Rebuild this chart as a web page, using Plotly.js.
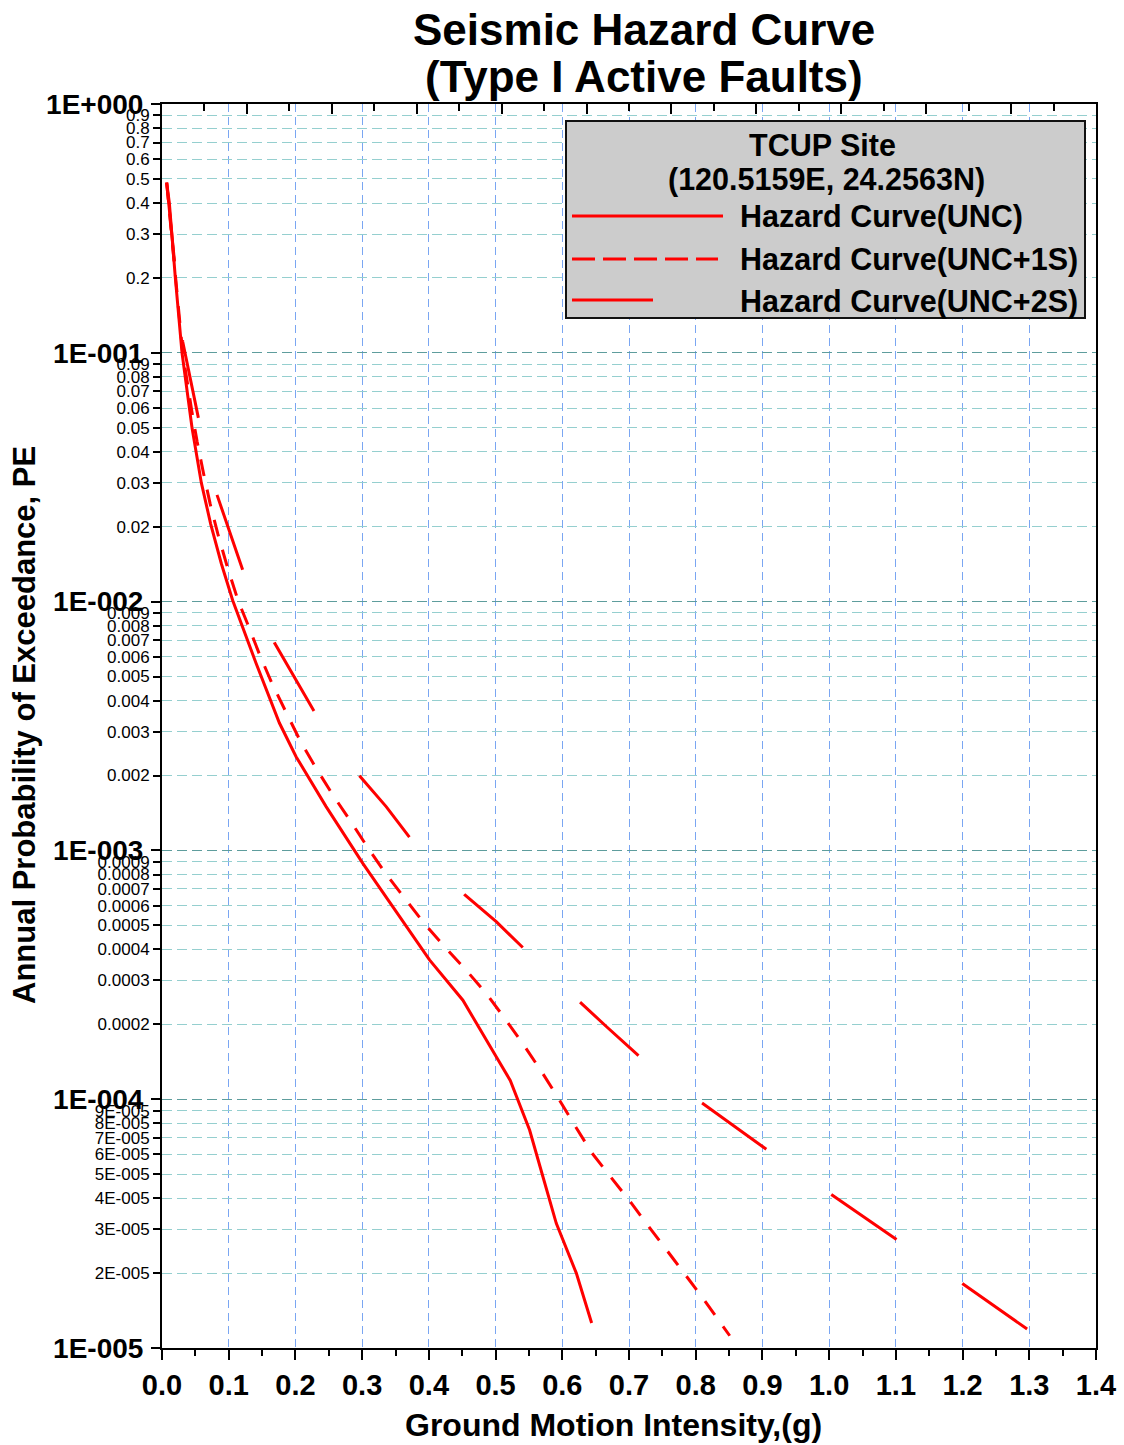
<!DOCTYPE html>
<html>
<head>
<meta charset="utf-8">
<script src="https://cdn.plot.ly/plotly-3.0.1.min.js"></script>
<style>
  html, body { margin: 0; padding: 0; background: #ffffff; }
  #chart { width: 1124px; height: 1445px; }
</style>
</head>
<body>
<div id="chart"></div>
<script>
// Hazard curve for the TCUP site: ground motion (g) vs annual probability of exceedance
const uncX = [0.007, 0.011, 0.020, 0.030, 0.045, 0.059, 0.073, 0.089, 0.106, 0.141, 0.176, 0.201, 0.246, 0.301, 0.351, 0.401, 0.451, 0.501, 0.522, 0.551, 0.571, 0.591, 0.621, 0.644];
const uncY = [0.483, 0.40, 0.20, 0.10, 0.050, 0.030, 0.0205, 0.0142, 0.0101, 0.00565, 0.00325, 0.00238, 0.00150, 0.000887, 0.000567, 0.000363, 0.000250, 0.000148, 0.000119, 7.52e-5, 4.88e-5, 3.17e-5, 2.00e-5, 1.26e-5];

const unc1sX = [0.007, 0.031, 0.0447, 0.0527, 0.0622, 0.0722, 0.0837, 0.0972, 0.114, 0.129, 0.146, 0.165, 0.186, 0.207, 0.231, 0.256, 0.282, 0.308, 0.335, 0.364, 0.393, 0.424, 0.456, 0.487, 0.515, 0.543, 0.569, 0.595, 0.619, 0.644, 0.673, 0.703, 0.724, 0.766, 0.809, 0.851];
const unc1sY = [0.483, 0.100, 0.0582, 0.0439, 0.0328, 0.0247, 0.0187, 0.0140, 0.0101, 0.00805, 0.00615, 0.00468, 0.00359, 0.00276, 0.00214, 0.00167, 0.00132, 0.00103, 0.000809, 0.000641, 0.000509, 0.000409, 0.000330, 0.000264, 0.000209, 0.000164, 0.000129, 0.000100, 7.83e-5, 6.10e-5, 4.85e-5, 3.84e-5, 3.22e-5, 2.29e-5, 1.61e-5, 1.12e-5];

const unc2sX = [0.007, 0.019, 0.031, 0.055, 0.083, 0.121, 0.169, 0.229, 0.297, 0.336, 0.372, 0.454, 0.501, 0.542, 0.627, 0.666, 0.715, 0.809, 0.906, 1.002, 1.102, 1.199, 1.297];
const unc2sY = [0.483, 0.229, 0.111, 0.054, 0.0266, 0.0134, 0.0068, 0.00359, 0.00198, 0.00150, 0.00112, 0.000662, 0.000517, 0.000404, 0.000245, 0.000196, 0.000149, 9.68e-5, 6.29e-5, 4.16e-5, 2.72e-5, 1.82e-5, 1.19e-5];

const xTickVals = [0, 0.1, 0.2, 0.3, 0.4, 0.5, 0.6, 0.7, 0.8, 0.9, 1.0, 1.1, 1.2, 1.3, 1.4];
const xTickText = ['0.0', '0.1', '0.2', '0.3', '0.4', '0.5', '0.6', '0.7', '0.8', '0.9', '1.0', '1.1', '1.2', '1.3', '1.4'];

const decadeVals = [1, 0.1, 0.01, 0.001, 0.0001, 0.00001];
const decadeText = ['1E+000', '1E-001', '1E-002', '1E-003', '1E-004', '1E-005'];

const minorVals = [0.9, 0.8, 0.7, 0.6, 0.5, 0.4, 0.3, 0.2,
                   0.09, 0.08, 0.07, 0.06, 0.05, 0.04, 0.03, 0.02,
                   0.009, 0.008, 0.007, 0.006, 0.005, 0.004, 0.003, 0.002,
                   0.0009, 0.0008, 0.0007, 0.0006, 0.0005, 0.0004, 0.0003, 0.0002,
                   9e-5, 8e-5, 7e-5, 6e-5, 5e-5, 4e-5, 3e-5, 2e-5];
const minorText = ['0.9', '0.8', '0.7', '0.6', '0.5', '0.4', '0.3', '0.2',
                   '0.09', '0.08', '0.07', '0.06', '0.05', '0.04', '0.03', '0.02',
                   '0.009', '0.008', '0.007', '0.006', '0.005', '0.004', '0.003', '0.002',
                   '0.0009', '0.0008', '0.0007', '0.0006', '0.0005', '0.0004', '0.0003', '0.0002',
                   '9E-005', '8E-005', '7E-005', '6E-005', '5E-005', '4E-005', '3E-005', '2E-005'];

const seriesNames = ['Hazard Curve(UNC)', 'Hazard Curve(UNC+1S)', 'Hazard Curve(UNC+2S)'];
const siteName = 'TCUP Site';
const siteCoords = '(120.5159E, 24.2563N)';

const FONT = 'Liberation Sans, Arial, Helvetica, sans-serif';
const RED = '#ff0000';

// plot-area frame in page pixels, used to place the hand-drawn legend and titles
const L = 162, R = 1096, T = 104, B = 1348;
const px = x => (x - L) / (R - L);
const py = y => (B - y) / (B - T);

const traces = [
  { x: uncX, y: uncY, name: seriesNames[0], mode: 'lines',
    line: { color: RED, width: 3, simplify: false } },
  { x: unc1sX, y: unc1sY, name: seriesNames[1], mode: 'lines',
    line: { color: RED, width: 3, dash: '17px,14px', simplify: false } },
  { x: unc2sX, y: unc2sY, name: seriesNames[2], mode: 'lines',
    line: { color: RED, width: 3, dash: '79.2px,79.2px', simplify: false } },
  // carriers so the top tick row and the decade axis are drawn
  { x: [], y: [], xaxis: 'x2', yaxis: 'y', hoverinfo: 'skip', showlegend: false },
  { x: [], y: [], xaxis: 'x', yaxis: 'y2', hoverinfo: 'skip', showlegend: false }
];

const legendShapes = [
  { type: 'rect', xref: 'paper', yref: 'paper', layer: 'above',
    x0: px(566), x1: px(1085), y0: py(318), y1: py(121),
    fillcolor: '#cccccc', line: { color: '#111111', width: 2 } },
  { type: 'line', xref: 'paper', yref: 'paper', layer: 'above',
    x0: px(572), x1: px(723), y0: py(216), y1: py(216), line: { color: RED, width: 3 } },
  { type: 'line', xref: 'paper', yref: 'paper', layer: 'above',
    x0: px(572), x1: px(718), y0: py(259), y1: py(259), line: { color: RED, width: 3, dash: '23px,8px' } },
  { type: 'line', xref: 'paper', yref: 'paper', layer: 'above',
    x0: px(572), x1: px(653), y0: py(300), y1: py(300), line: { color: RED, width: 3 } }
];

const boldText = (size) => ({ family: FONT, size: size, color: '#000000', weight: 'bold' });

const annotations = [
  { text: 'Seismic Hazard Curve', xref: 'paper', yref: 'paper', x: px(644), y: py(29),
    xanchor: 'center', yanchor: 'middle', showarrow: false, font: boldText(44) },
  { text: '(Type I Active Faults)', xref: 'paper', yref: 'paper', x: px(644), y: py(76),
    xanchor: 'center', yanchor: 'middle', showarrow: false, font: boldText(44) },
  { text: 'Ground Motion Intensity,(g)', xref: 'paper', yref: 'paper', x: px(613), y: py(1425),
    xanchor: 'center', yanchor: 'middle', showarrow: false, font: boldText(32) },
  { text: 'Annual Probability of Exceedance, PE', xref: 'paper', yref: 'paper', x: px(25), y: py(725),
    xanchor: 'center', yanchor: 'middle', textangle: -90, showarrow: false, font: boldText(31) },
  { text: siteName, xref: 'paper', yref: 'paper', x: px(822), y: py(145),
    xanchor: 'center', yanchor: 'middle', showarrow: false, font: boldText(30.5) },
  { text: siteCoords, xref: 'paper', yref: 'paper', x: px(826), y: py(180),
    xanchor: 'center', yanchor: 'middle', showarrow: false, font: boldText(30.5) },
  { text: seriesNames[0], xref: 'paper', yref: 'paper', x: px(738), y: py(216),
    xanchor: 'left', yanchor: 'middle', showarrow: false, font: boldText(30.5) },
  { text: seriesNames[1], xref: 'paper', yref: 'paper', x: px(738), y: py(259),
    xanchor: 'left', yanchor: 'middle', showarrow: false, font: boldText(30.5) },
  { text: seriesNames[2], xref: 'paper', yref: 'paper', x: px(738), y: py(301),
    xanchor: 'left', yanchor: 'middle', showarrow: false, font: boldText(30.5) }
];

const layout = {
  width: 1124, height: 1445,
  margin: { l: L, r: 1124 - R, t: T, b: 1445 - B, pad: 0 },
  paper_bgcolor: '#ffffff', plot_bgcolor: '#ffffff',
  showlegend: false,
  font: { family: FONT, color: '#000000' },
  xaxis: {
    range: [0, 1.4], tickvals: xTickVals, ticktext: xTickText,
    ticks: 'outside', ticklen: 10, tickwidth: 2, tickcolor: '#000000',
    showline: true, linecolor: '#000000', linewidth: 2, mirror: true,
    showgrid: true, gridcolor: '#7aa6f2', griddash: '8px,5px', gridwidth: 1,
    zeroline: false, tickfont: boldText(29),
    minor: { dtick: 0.05, tick0: 0, ticks: 'outside', ticklen: 6, tickwidth: 2, tickcolor: '#000000', showgrid: false }
  },
  xaxis2: {
    overlaying: 'x', side: 'top', anchor: 'y', range: [0, 22], tick0: 0, dtick: 2,
    ticks: 'inside', ticklen: 10, tickwidth: 2, tickcolor: '#000000',
    showticklabels: false, showgrid: false, showline: false, zeroline: false,
    minor: { dtick: 1, tick0: 0, ticks: 'inside', ticklen: 7, tickwidth: 2, tickcolor: '#000000', showgrid: false }
  },
  yaxis: {
    type: 'log', range: [-5, 0], tickvals: minorVals, ticktext: minorText,
    ticks: 'outside', ticklen: 7, tickwidth: 2, tickcolor: '#000000',
    showline: true, linecolor: '#000000', linewidth: 2, mirror: true,
    showgrid: true, gridcolor: '#95cfcf', griddash: '10px,5px', gridwidth: 1,
    zeroline: false, tickfont: { family: FONT, size: 17, color: '#000000' }
  },
  yaxis2: {
    type: 'log', range: [-5, 0], overlaying: 'y', side: 'left', anchor: 'x',
    tickvals: decadeVals, ticktext: decadeText,
    ticks: 'outside', ticklen: 10, tickwidth: 2, tickcolor: '#000000',
    showline: false, showgrid: true, gridcolor: '#5e9d9d', griddash: '10px,5px', gridwidth: 1,
    zeroline: false, tickfont: boldText(28), ticklabelstandoff: 2
  },
  shapes: legendShapes,
  annotations: annotations
};

Plotly.newPlot('chart', traces, layout, { staticPlot: true, displayModeBar: false });
</script>
</body>
</html>
